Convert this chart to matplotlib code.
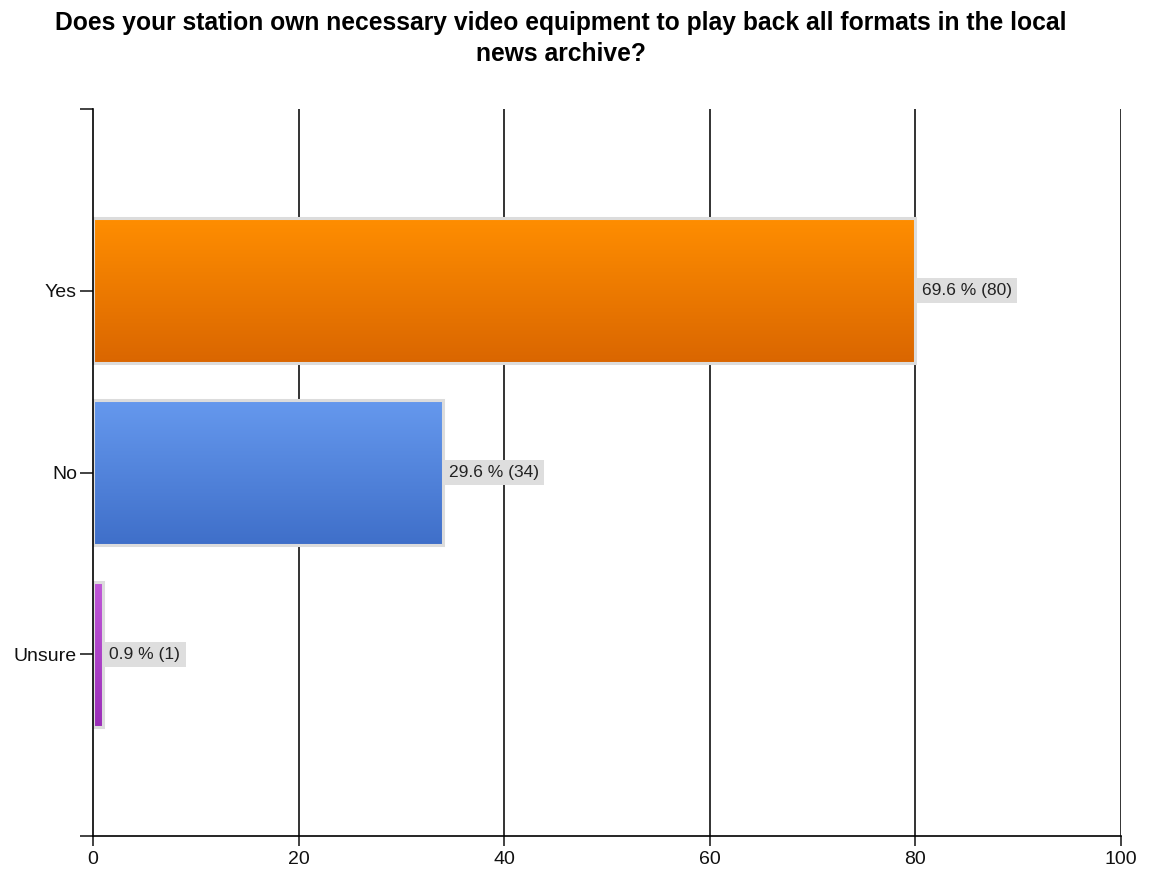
import matplotlib
matplotlib.use("Agg")
import matplotlib.pyplot as plt
import numpy as np
from matplotlib.colors import LinearSegmentedColormap

plt.rcParams['font.family'] = ['Liberation Sans', 'DejaVu Sans']

categories = ["Yes", "No", "Unsure"]
counts = [80, 34, 1]
percents = [69.6, 29.6, 0.9]
top_colors = ["#FF8E00", "#6699EE", "#C058D8"]
bottom_colors = ["#DA6600", "#3F6FC9", "#9A2DB8"]
x_ticks = [0, 20, 40, 60, 80, 100]
title = "Does your station own necessary video equipment to play back all formats in the local\nnews archive?"

fig = plt.figure(figsize=(11.53, 8.73), dpi=100)
W, H = 1153, 873
ax = fig.add_axes([93 / W, 1 - 836 / H, (1121 - 93) / W, (836 - 109) / H])

ypos = [3, 2, 1]
bh = 0.8
bars = ax.barh(ypos, counts, height=bh, color="none", edgecolor="#DCDCDC", linewidth=2.2, zorder=3)
for b, tc, bc in zip(bars, top_colors, bottom_colors):
    cmap = LinearSegmentedColormap.from_list("g", [bc, tc])
    grad = np.linspace(0, 1, 256).reshape(-1, 1)
    x0, y0 = b.get_x(), b.get_y()
    w, h = b.get_width(), b.get_height()
    im = ax.imshow(grad, cmap=cmap, aspect="auto", origin="lower",
                   extent=[x0, x0 + w, y0, y0 + h], zorder=2)
    im.set_clip_path(b)
for y, c, p in zip(ypos, counts, percents):
    ax.text(c + 0.6, y, f"{p} % ({c})", va="center", ha="left", fontsize=12.5, color="#222222",
            bbox=dict(boxstyle="square,pad=0.3", facecolor="#DEDEDE", edgecolor="none"), zorder=4)

ax.set_xlim(0, 100)
ax.set_ylim(0, 4)
ax.set_xticks(x_ticks)
ax.set_xticklabels([str(t) for t in x_ticks], fontsize=14)
ax.set_yticks([0] + ypos + [4])
ax.set_yticklabels([""] + categories + [""], fontsize=14)
ax.tick_params(axis="both", width=1.2, color="#222222", labelcolor="#111111")
ax.tick_params(axis="y", length=9.5, pad=2)
ax.tick_params(axis="x", length=7, pad=4)
for x in x_ticks[1:]:
    ax.axvline(x, color="#111111", linewidth=1.2, zorder=1)
ax.spines["top"].set_visible(False)
ax.spines["right"].set_visible(False)
ax.spines["left"].set_linewidth(1.2)
ax.spines["bottom"].set_linewidth(1.2)
ax.spines["left"].set_zorder(5)

fig.text(561 / W, 1 - 38.5 / H, title, ha="center", va="center", fontsize=17.7, fontweight="bold",
         linespacing=1.38)

fig.savefig("out.png", dpi=100)
